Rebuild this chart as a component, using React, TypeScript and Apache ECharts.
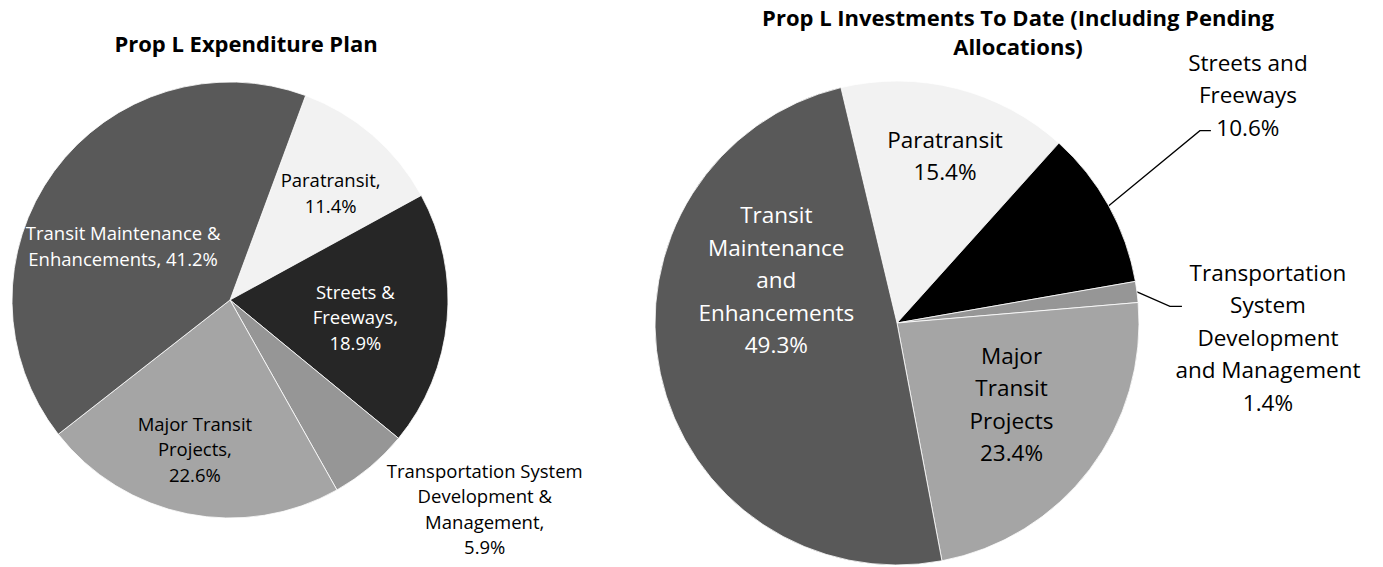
import React, { useEffect, useRef } from "react";
import * as echarts from "echarts";

// ---- Data ----
const planTitle = "Prop L Expenditure Plan";
const planCategories = [
  "Paratransit",
  "Streets & Freeways",
  "Transportation System Development & Management",
  "Major Transit Projects",
  "Transit Maintenance & Enhancements",
];
const planValues = [11.4, 18.9, 5.9, 22.6, 41.2];
const planLabelNames = [
  "Paratransit,\n",
  "Streets &\nFreeways,\n",
  "Transportation System\nDevelopment &\nManagement,\n",
  "Major Transit\nProjects,\n",
  "Transit Maintenance &\nEnhancements, ",
];

const investTitleLines = [
  "Prop L Investments To Date (Including Pending",
  "Allocations)",
];
const investCategories = [
  "Paratransit",
  "Streets and Freeways",
  "Transportation System Development and Management",
  "Major Transit Projects",
  "Transit Maintenance and Enhancements",
];
const investValues = [15.4, 10.6, 1.4, 23.4, 49.3];
const investLabelNames = [
  "Paratransit\n",
  "Streets and\nFreeways\n",
  "Transportation\nSystem\nDevelopment\nand Management\n",
  "Major\nTransit\nProjects\n",
  "Transit\nMaintenance\nand\nEnhancements\n",
];

// ---- Styles / layout ----
const FONT = "'Open Sans', Lato, sans-serif";
const planColors = ["#f2f2f2", "#262626", "#969696", "#a5a5a5", "#595959"];
const investColors = ["#f2f2f2", "#000000", "#969696", "#a5a5a5", "#595959"];
const labelColorsPlan = ["#000", "#fff", "#000", "#000", "#fff"];
const labelColorsInvest = ["#000", "#000", "#000", "#000", "#fff"];

const planGeom = { cx: 230, cy: 300, r: 218, startFromTop: 20.3 };
const investGeom = { cx: 897, cy: 323, r: 242, startFromTop: -13.4 };

// label placement: [radius fraction, angle nudge (deg) from slice mid-angle]
const planLabelPolar = [
  [0.675, 2.3],
  [0.58, 2.2],
  [1.51, -10.7],
  [0.7, 2],
  [0.55, -9.2],
];
const investLabelPolar = [
  [0.72, 1.7],
  [1.73, -4.1],
  [1.534, 9.6],
  [0.58, -1.9],
  [0.53, 31.8],
];

function midAngles(values: number[], startFromTop: number) {
  const total = values.reduce((a, b) => a + b, 0);
  const out: number[] = [];
  let acc = startFromTop;
  for (const v of values) {
    const span = (v / total) * 360;
    out.push(acc + span / 2);
    acc += span;
  }
  return out;
}

function polar(g: any, angleDeg: number, rad: number) {
  const a = (angleDeg * Math.PI) / 180;
  return [g.cx + rad * Math.sin(a), g.cy - rad * Math.cos(a)];
}

export default function App() {
  const ref = useRef<HTMLDivElement>(null);

  useEffect(() => {
    if (!ref.current) return;
    const chart = echarts.init(ref.current, undefined, { renderer: "svg" });

    const planMids = midAngles(planValues, planGeom.startFromTop);
    const investMids = midAngles(investValues, investGeom.startFromTop);

    const planLayout = (params: any) => {
      const i = params.dataIndex;
      const [f, n] = planLabelPolar[i];
      const [x, y] = polar(planGeom, planMids[i] + n, f * planGeom.r);
      return { x, y, align: "center", verticalAlign: "middle" };
    };

    const investLayout = (params: any) => {
      const i = params.dataIndex;
      const [f, n] = investLabelPolar[i];
      const [x, y] = polar(investGeom, investMids[i] + n, f * investGeom.r);
      const res: any = { x, y, align: "center", verticalAlign: "middle" };
      if (i === 1) {
        const p0 = polar(investGeom, investMids[i], investGeom.r);
        res.labelLinePoints = [p0, [x - 48, y + 36], [x - 37, y + 36]];
      } else if (i === 2) {
        const p0 = polar(investGeom, investMids[i], investGeom.r);
        res.labelLinePoints = [p0, [x - 98, y - 31], [x - 86, y - 31]];
      }
      return res;
    };

    const planData = planCategories.map((name, i) => ({
      name,
      value: planValues[i],
      itemStyle: { color: planColors[i] },
      label: {
        color: labelColorsPlan[i],
        position: i === 2 ? "outside" : "inside",
      },
      labelLine: { show: false },
    }));

    const investData = investCategories.map((name, i) => {
      const outside = i === 1 || i === 2;
      return {
        name,
        value: investValues[i],
        itemStyle: { color: investColors[i] },
        label: {
          color: labelColorsInvest[i],
          position: outside ? "outside" : "inside",
        },
        labelLine: {
          show: outside,
          length: 20,
          length2: 10,
          lineStyle: { color: "#000", width: 1.3 },
        },
      };
    });

    const titleStyle = {
      fontFamily: FONT,
      fontWeight: "bold",
      fontSize: 22,
      fill: "#000",
      align: "center",
      verticalAlign: "middle",
    };

    chart.setOption({
      animation: false,
      backgroundColor: "#ffffff",
      graphic: [
        { type: "text", x: 246, y: 43, style: { ...titleStyle, text: planTitle } },
        { type: "text", x: 1018, y: 17, style: { ...titleStyle, text: investTitleLines[0] } },
        { type: "text", x: 1018, y: 46, style: { ...titleStyle, text: investTitleLines[1] } },
      ],
      series: [
        {
          type: "pie",
          center: [planGeom.cx, planGeom.cy],
          radius: [0, planGeom.r],
          startAngle: 90 - planGeom.startFromTop,
          clockwise: true,
          avoidLabelOverlap: false,
          itemStyle: { borderColor: "#ffffff", borderWidth: 0.8 },
          label: {
            fontFamily: FONT,
            fontSize: 18.5,
            lineHeight: 25.5,
            align: "center",
            formatter: (p: any) => planLabelNames[p.dataIndex] + p.value.toFixed(1) + "%",
          },
          emphasis: { disabled: true },
          labelLayout: planLayout,
          data: planData,
        },
        {
          type: "pie",
          center: [investGeom.cx, investGeom.cy],
          radius: [0, investGeom.r],
          startAngle: 90 - investGeom.startFromTop,
          clockwise: true,
          avoidLabelOverlap: false,
          itemStyle: { borderColor: "#ffffff", borderWidth: 0.8 },
          label: {
            fontFamily: FONT,
            fontSize: 22.5,
            lineHeight: 32.5,
            align: "center",
            formatter: (p: any) => investLabelNames[p.dataIndex] + p.value.toFixed(1) + "%",
          },
          emphasis: { disabled: true },
          labelLayout: investLayout,
          data: investData,
        },
      ],
    });

    return () => chart.dispose();
  }, []);

  return (
    <div
      ref={ref}
      style={{ position: "fixed", left: 0, top: 0, width: 1383, height: 567, background: "#fff" }}
    />
  );
}
